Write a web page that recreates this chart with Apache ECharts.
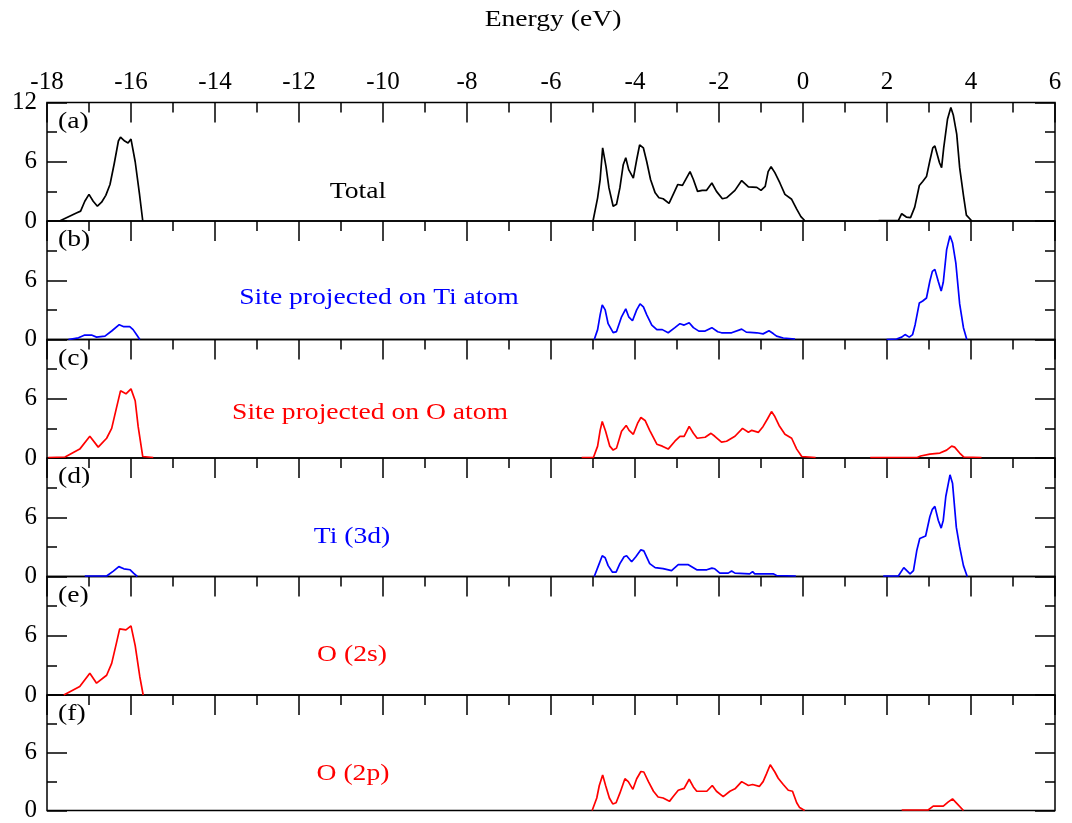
<!DOCTYPE html>
<html>
<head>
<meta charset="utf-8">
<script src="https://cdn.jsdelivr.net/npm/echarts@6/dist/echarts.min.js"></script>
<style>
  html, body { margin: 0; padding: 0; background: #fff; }
  #chart { width: 1072px; height: 823px; }
</style>
</head>
<body>
<div id="chart"></div>
<script>
// Energy axis (eV) tick range
const energyMin = -18, energyMax = 6, energyStep = 2;
const dosMax = 12, dosStep = 6;

// (a) Total DOS: [energy, DOS]
const totalSemi = [[-17.7,0],[-17.5,0.4],[-17.3,0.8],[-17.2,1.0],[-17.1,2.0],[-17.0,2.7],[-16.9,2.0],[-16.8,1.5],[-16.7,1.9],[-16.6,2.6],[-16.5,3.7],[-16.4,5.8],[-16.3,8.1],[-16.25,8.5],[-16.15,8.1],[-16.07,7.9],[-16.0,8.3],[-15.9,6.0],[-15.8,2.8],[-15.72,0]];
const totalValence = [[-5.0,0],[-4.89,2.35],[-4.83,4.2],[-4.77,7.4],[-4.74,6.7],[-4.69,5.5],[-4.62,3.35],[-4.52,1.5],[-4.44,1.7],[-4.36,3.35],[-4.28,5.7],[-4.22,6.4],[-4.15,5.2],[-4.04,4.35],[-3.96,6.2],[-3.89,7.7],[-3.80,7.4],[-3.72,6.0],[-3.63,4.2],[-3.52,2.85],[-3.43,2.35],[-3.33,2.25],[-3.19,1.78],[-3.09,2.7],[-2.98,3.7],[-2.87,3.6],[-2.69,5.0],[-2.61,4.2],[-2.51,3.0],[-2.40,3.1],[-2.30,3.1],[-2.17,3.85],[-2.06,3.0],[-1.92,2.25],[-1.82,2.35],[-1.62,3.1],[-1.46,4.1],[-1.30,3.45],[-1.10,3.4],[-1.0,3.1],[-0.90,3.5],[-0.83,5.0],[-0.76,5.5],[-0.67,4.9],[-0.55,3.85],[-0.43,2.7],[-0.27,2.2],[-0.15,1.2],[-0.05,0.45],[0.05,0]];
const totalCond = [[1.8,0.05],[2.27,0.05],[2.35,0.74],[2.46,0.4],[2.56,0.34],[2.66,1.4],[2.77,3.6],[2.85,4.0],[2.94,4.5],[3.02,6.1],[3.09,7.4],[3.14,7.6],[3.25,5.9],[3.30,5.4],[3.35,7.4],[3.44,10.3],[3.52,11.5],[3.58,10.7],[3.66,8.8],[3.73,5.4],[3.82,2.6],[3.89,0.6],[4.02,0]];

// (b) Site projected on Ti atom
const tiSemi = [[-17.49,0],[-17.25,0.17],[-17.1,0.45],[-16.94,0.45],[-16.82,0.24],[-16.62,0.34],[-16.46,0.86],[-16.28,1.5],[-16.17,1.3],[-16.03,1.3],[-15.95,1.0],[-15.87,0.5],[-15.79,0]];
const tiValence = [[-4.97,0],[-4.89,1.0],[-4.83,2.5],[-4.78,3.5],[-4.71,3.0],[-4.64,1.6],[-4.52,0.7],[-4.44,0.8],[-4.32,2.3],[-4.22,3.1],[-4.15,2.3],[-4.06,1.9],[-3.96,3.0],[-3.88,3.6],[-3.80,3.3],[-3.72,2.5],[-3.60,1.46],[-3.48,1.0],[-3.35,1.0],[-3.21,0.68],[-3.05,1.2],[-2.93,1.6],[-2.83,1.46],[-2.71,1.7],[-2.61,1.2],[-2.48,0.85],[-2.33,0.85],[-2.17,1.2],[-2.03,0.78],[-1.94,0.68],[-1.70,0.68],[-1.46,1.05],[-1.35,0.75],[-1.10,0.68],[-0.95,0.57],[-0.81,0.88],[-0.71,0.6],[-0.63,0.34],[-0.47,0.15],[-0.19,0.05]];
const tiCond = [[1.99,0],[2.23,0.05],[2.35,0.24],[2.43,0.5],[2.53,0.24],[2.61,0.5],[2.67,1.5],[2.77,3.7],[2.85,3.9],[2.94,4.2],[3.02,5.9],[3.08,6.9],[3.14,7.1],[3.22,5.9],[3.29,4.9],[3.34,5.8],[3.42,9.1],[3.50,10.5],[3.56,9.8],[3.64,7.7],[3.73,3.6],[3.82,1.2],[3.90,0]];

// (c) Site projected on O atom
const oSemi = [[-17.97,0.05],[-17.57,0.1],[-17.22,0.9],[-16.98,2.2],[-16.78,1.1],[-16.58,2.0],[-16.46,3.0],[-16.35,5.0],[-16.25,6.8],[-16.12,6.5],[-16.0,7.0],[-15.9,5.8],[-15.83,3.2],[-15.72,0.15],[-15.47,0.05]];
const oValence = [[-5.27,0.05],[-4.99,0.05],[-4.89,1.2],[-4.83,2.8],[-4.78,3.7],[-4.70,2.7],[-4.60,1.2],[-4.52,0.8],[-4.44,1.0],[-4.32,2.7],[-4.21,3.3],[-4.14,2.8],[-4.04,2.4],[-3.94,3.5],[-3.86,4.1],[-3.76,3.8],[-3.65,2.8],[-3.48,1.4],[-3.35,1.2],[-3.21,0.9],[-3.05,1.7],[-2.93,2.2],[-2.83,2.2],[-2.71,3.2],[-2.61,2.5],[-2.52,2.0],[-2.33,2.1],[-2.19,2.5],[-2.10,2.2],[-1.94,1.6],[-1.82,1.7],[-1.62,2.2],[-1.44,3.0],[-1.30,2.6],[-1.22,2.8],[-1.06,2.6],[-0.95,3.2],[-0.84,4.0],[-0.75,4.7],[-0.67,4.2],[-0.57,3.3],[-0.43,2.4],[-0.27,2.0],[-0.15,0.9],[-0.03,0.15],[0.3,0.05]];
const oCond = [[1.6,0.05],[2.72,0.05],[2.8,0.2],[3.02,0.4],[3.26,0.5],[3.42,0.8],[3.54,1.2],[3.61,1.1],[3.73,0.5],[3.83,0.1],[4.25,0.05]];

// (d) Ti (3d)
const d3Semi = [[-17.1,0.05],[-16.58,0.05],[-16.42,0.55],[-16.29,1.0],[-16.17,0.78],[-16.02,0.68],[-15.94,0.34],[-15.85,0]];
const d3Valence = [[-4.97,0],[-4.87,1.1],[-4.78,2.1],[-4.71,1.9],[-4.64,1.1],[-4.54,0.45],[-4.45,0.45],[-4.36,1.3],[-4.26,2.0],[-4.20,2.1],[-4.08,1.5],[-3.98,2.0],[-3.86,2.7],[-3.79,2.6],[-3.65,1.3],[-3.52,0.9],[-3.33,0.8],[-3.13,0.6],[-2.97,1.2],[-2.73,1.2],[-2.53,0.68],[-2.29,0.68],[-2.17,0.85],[-2.10,0.78],[-1.98,0.34],[-1.78,0.34],[-1.70,0.55],[-1.62,0.34],[-1.27,0.27],[-1.20,0.5],[-1.15,0.27],[-0.71,0.27],[-0.63,0.1],[-0.17,0.05]];
const d3Cond = [[1.91,0.05],[2.27,0.05],[2.40,0.9],[2.55,0.27],[2.63,0.6],[2.71,2.65],[2.78,3.85],[2.92,4.1],[3.02,6.05],[3.08,6.8],[3.14,7.1],[3.22,5.7],[3.29,4.9],[3.34,5.7],[3.40,8.1],[3.50,10.3],[3.56,9.45],[3.65,5.0],[3.73,3.0],[3.82,1.1],[3.91,0]];

// (e) O (2s)
const o2sSemi = [[-17.6,0],[-17.57,0.17],[-17.22,0.85],[-16.98,2.2],[-16.82,1.2],[-16.58,2.0],[-16.46,3.2],[-16.35,5.2],[-16.27,6.7],[-16.12,6.6],[-16.0,7.0],[-15.9,5.0],[-15.79,1.85],[-15.71,0]];

// (f) O (2p)
const o2pValence = [[-5.02,0],[-4.91,1.3],[-4.85,2.6],[-4.77,3.7],[-4.70,2.6],[-4.61,1.3],[-4.53,0.68],[-4.45,0.8],[-4.36,1.8],[-4.24,3.3],[-4.16,3.0],[-4.05,2.2],[-3.96,3.3],[-3.86,4.05],[-3.79,4.0],[-3.68,3.0],[-3.56,2.0],[-3.45,1.4],[-3.33,1.3],[-3.18,0.95],[-3.09,1.45],[-2.97,2.1],[-2.83,2.3],[-2.71,3.25],[-2.61,2.45],[-2.53,2.0],[-2.29,2.0],[-2.16,2.6],[-2.06,2.0],[-1.90,1.45],[-1.74,2.0],[-1.62,2.25],[-1.46,3.0],[-1.30,2.6],[-1.20,2.7],[-1.04,2.5],[-0.95,3.0],[-0.87,3.8],[-0.78,4.75],[-0.67,4.0],[-0.59,3.35],[-0.47,2.7],[-0.35,2.1],[-0.25,2.0],[-0.15,0.8],[-0.08,0.3],[0.04,0]];
const o2pCond = [[2.35,0.05],[2.98,0.05],[3.10,0.45],[3.34,0.45],[3.46,0.9],[3.56,1.2],[3.65,0.8],[3.82,0]];

// Panel descriptions
const panelTags = ['(a)', '(b)', '(c)', '(d)', '(e)', '(f)'];
const panelTitles = ['Total', 'Site projected on Ti atom', 'Site projected on O atom', 'Ti (3d)', 'O (2s)', 'O (2p)'];
const panelColors = ['#000000', '#0000ff', '#ff0000', '#0000ff', '#ff0000', '#ff0000'];
const panelCurves = [
  [totalSemi, totalValence, totalCond],
  [tiSemi, tiValence, tiCond],
  [oSemi, oValence, oCond],
  [d3Semi, d3Valence, d3Cond],
  [o2sSemi],
  [o2pValence, o2pCond]
];
const xAxisTitle = 'Energy (eV)';

// Layout
const FONT = 'Liberation Serif';
const TEXT_STRETCH = 1.15; // slightly wide lettering for annotations
const plotLeft = 47, plotRight = 17, plotTop = 102.5, panelH = 118.5;
const titleX = [358, 379, 370, 352, 352, 353];
const titleOffset = [29, 42, 45, 40, 40, 40]; // text centre above panel bottom

const chart = echarts.init(document.getElementById('chart'), null, { renderer: 'canvas' });

const grids = [], xAxes = [], yAxes = [], series = [], graphics = [];
const tickStyle = { color: '#000', width: 1.5 };

function textEl(x, y, text, color, align) {
  return {
    type: 'text', x: x, y: y, scaleX: TEXT_STRETCH, scaleY: 1,
    style: { text: text, font: '24px "' + FONT + '"', fill: color, textAlign: align, textVerticalAlign: 'middle' }
  };
}

panelTags.forEach((tag, i) => {
  const top = plotTop + i * panelH;
  grids.push({
    left: plotLeft, right: plotRight, top: top, height: panelH,
    show: true, borderColor: '#000', borderWidth: 1.5, containLabel: false
  });
  xAxes.push({
    type: 'value', gridIndex: i, position: 'top',
    min: energyMin, max: energyMax, interval: energyStep,
    axisLine: { show: false, onZero: false },
    axisTick: { show: true, inside: true, length: 20, lineStyle: tickStyle },
    minorTick: { show: true, splitNumber: 2, length: 10, lineStyle: tickStyle },
    splitLine: { show: false },
    axisLabel: {
      show: i === 0, margin: 8, showMinLabel: true, showMaxLabel: true,
      fontFamily: FONT, fontSize: 25, color: '#000'
    }
  });
  const yCommon = {
    type: 'value', gridIndex: i, min: 0, max: dosMax, interval: dosStep,
    axisLine: { show: false, onZero: false },
    axisTick: { show: true, inside: true, length: 20, lineStyle: tickStyle },
    minorTick: { show: true, splitNumber: 2, length: 10, lineStyle: tickStyle },
    splitLine: { show: false }
  };
  yAxes.push(Object.assign({}, yCommon, {
    position: 'left',
    axisLabel: {
      show: true, margin: 10, fontFamily: FONT, fontSize: 25, color: '#000',
      showMinLabel: true, showMaxLabel: true,
      formatter: v => (v === dosMax && i !== 0) ? '' : String(v)
    }
  }));
  yAxes.push(Object.assign({}, yCommon, { position: 'right', axisLabel: { show: false } }));

  panelCurves[i].forEach(curve => {
    series.push({
      type: 'line', xAxisIndex: i, yAxisIndex: 2 * i,
      data: curve, showSymbol: false, symbol: 'none', smooth: false,
      lineStyle: { color: panelColors[i], width: 1.7 },
      silent: true, animation: false, clip: true
    });
  });

  graphics.push(textEl(58, top + 19, tag, '#000', 'left'));
  graphics.push(textEl(titleX[i], top + panelH - titleOffset[i], panelTitles[i], panelColors[i], 'center'));
});

graphics.push(textEl(553, 20, xAxisTitle, '#000', 'center'));

chart.setOption({
  backgroundColor: '#fff',
  animation: false,
  grid: grids,
  xAxis: xAxes,
  yAxis: yAxes,
  series: series,
  graphic: graphics
});
</script>
</body>
</html>
